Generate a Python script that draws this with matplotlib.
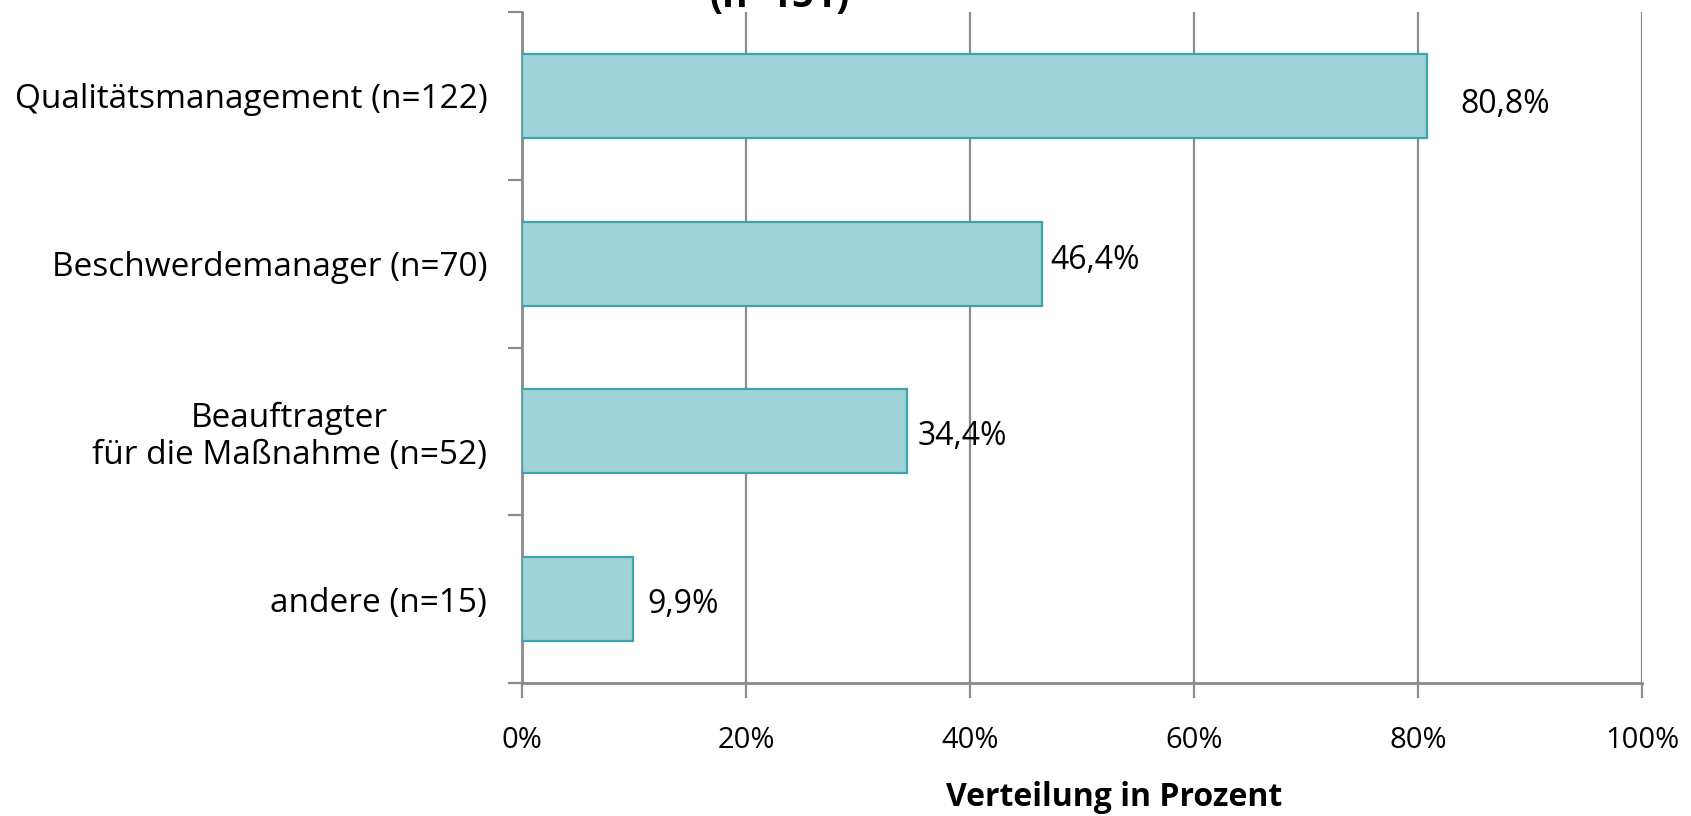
import matplotlib.pyplot as plt
import numpy as np

# ---------------- DATA ----------------
categories = [
    "Qualitätsmanagement (n=122)",
    "Beschwerdemanager (n=70)",
    "Beauftragter\nfür die Maßnahme (n=52)",
    "andere (n=15)",
]
values = [80.8, 46.4, 34.4, 9.9]
value_labels = ["80,8%", "46,4%", "34,4%", "9,9%"]
x_ticks = [0, 20, 40, 60, 80, 100]
x_ticklabels = ["0%", "20%", "40%", "60%", "80%", "100%"]
title_text = "(n=151)"
x_label = "Verteilung in Prozent"

# ---------------- STYLE ----------------
plt.rcParams['font.family'] = ['Open Sans', 'DejaVu Sans']
FILL = "#9fd3d7"
EDGE = "#3aa5ad"
GRID = "#8c8c8c"
label_dx = [3.0, 0.8, 0.9, 1.3]   # offsets of value labels (in %)
label_dy = [0.05, -0.02, 0.03, 0.03]

fig = plt.figure(figsize=(16.91, 8.16), dpi=100)
ax = fig.add_axes([522 / 1691, 1 - 683 / 816, 1120 / 1691, 671 / 816])

y = np.arange(len(categories))
ax.barh(y, values, height=0.5, color=FILL, edgecolor=EDGE, linewidth=1.6, zorder=3)

for i, v in enumerate(values):
    ax.text(v + label_dx[i], y[i] + label_dy[i], value_labels[i],
            va="center", ha="left", fontsize=23, color="black")

ax.set_xlim(0, 100)
ax.set_ylim(len(categories) - 0.5, -0.5)
ax.set_xticks(x_ticks)
ax.set_xticklabels(x_ticklabels, fontsize=21)
ax.set_yticks(y)
ax.set_yticklabels(categories, fontsize=24, linespacing=1.15)
ax.set_yticks(np.arange(-0.5, len(categories)), minor=True)

ax.tick_params(axis="y", which="major", length=0, pad=25)
ax.tick_params(axis="y", which="minor", length=10, width=1.6, color=GRID)
for t in ax.get_yticklabels():
    t.set_multialignment("center")
ax.tick_params(axis="x", length=11, width=1.6, color=GRID, pad=20, direction="out")

ax.xaxis.grid(True, color=GRID, linewidth=1.6, zorder=0)
for side in ["top", "right"]:
    ax.spines[side].set_visible(False)
for side in ["left", "bottom"]:
    ax.spines[side].set_color(GRID)
    ax.spines[side].set_linewidth(2)

fig.text(1114 / 1691, 1 - 798 / 816, x_label, ha="center", va="center",
         fontsize=23, fontweight="bold")
fig.text(780 / 1691, 1 - 7 / 816, title_text, ha="center", va="baseline",
         fontsize=28, fontweight="bold")

fig.savefig("out.png", dpi=100)
